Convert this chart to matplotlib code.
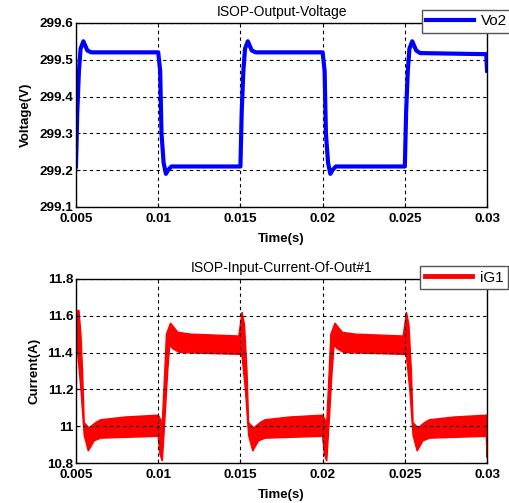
import matplotlib.pyplot as plt
from matplotlib.lines import Line2D

plt.rcParams['font.family'] = ['Liberation Sans', 'DejaVu Sans']

# ---------------- datos: tension de salida Vo2 ----------------
t_v = [0.005, 0.00508, 0.00518, 0.00528, 0.00545, 0.00569, 0.00593, 0.0100,
       0.01012, 0.0102, 0.01033, 0.01047, 0.0106, 0.0108, 0.0150,
       0.01508, 0.01518, 0.01528, 0.01545, 0.01569, 0.01593, 0.0200,
       0.02012, 0.0202, 0.02033, 0.02047, 0.0206, 0.0208, 0.0250,
       0.02508, 0.02518, 0.02528, 0.02545, 0.02569, 0.02593, 0.02995, 0.0300]
v_o2 = [299.21, 299.36, 299.47, 299.53, 299.55, 299.525, 299.52, 299.52,
        299.47, 299.30, 299.22, 299.19, 299.20, 299.21, 299.21,
        299.36, 299.47, 299.53, 299.55, 299.525, 299.52, 299.52,
        299.47, 299.30, 299.22, 299.19, 299.20, 299.21, 299.21,
        299.36, 299.47, 299.53, 299.55, 299.525, 299.518, 299.515, 299.47]

# ---------------- datos: corriente de entrada iG1 (envolvente del rizado) ----------------
t_sup = [0.005, 0.00518, 0.0053, 0.0054, 0.0055, 0.0058, 0.0062, 0.0065, 0.008, 0.0100,
         0.01025, 0.0104, 0.0105, 0.01075, 0.0112, 0.012, 0.0149, 0.0151, 0.01525, 0.0154,
         0.0155, 0.0158, 0.0162, 0.0165, 0.018, 0.0200,
         0.02025, 0.0204, 0.0205, 0.02075, 0.0212, 0.022, 0.0249, 0.0251, 0.02525, 0.0254,
         0.0255, 0.0258, 0.0262, 0.0265, 0.028, 0.0300]
i_sup = [11.62, 11.63, 11.50, 11.30, 11.02, 10.99, 11.02, 11.035, 11.05, 11.06,
         11.02, 11.30, 11.50, 11.56, 11.51, 11.50, 11.49, 11.62, 11.55, 11.30,
         11.02, 10.99, 11.02, 11.035, 11.05, 11.06,
         11.02, 11.30, 11.50, 11.56, 11.51, 11.50, 11.49, 11.62, 11.55, 11.30,
         11.02, 10.99, 11.02, 11.035, 11.05, 11.06]
t_inf = [0.005, 0.0051, 0.0053, 0.0055, 0.00575, 0.0061, 0.0065, 0.0100,
         0.0101, 0.01025, 0.01035, 0.01058, 0.0107, 0.0109, 0.0113, 0.0150,
         0.0151, 0.0153, 0.0155, 0.01575, 0.0161, 0.0165, 0.0200,
         0.0201, 0.02025, 0.02035, 0.02058, 0.0207, 0.0209, 0.0213, 0.0250,
         0.0251, 0.0253, 0.0255, 0.02575, 0.0261, 0.0265, 0.02995, 0.0300]
i_inf = [11.42, 11.40, 11.20, 10.95, 10.865, 10.92, 10.935, 10.945,
         10.85, 10.81, 10.95, 11.30, 11.44, 11.42, 11.40, 11.39,
         11.38, 11.20, 10.95, 10.865, 10.92, 10.935, 10.945,
         10.85, 10.81, 10.95, 11.30, 11.44, 11.42, 11.40, 11.39,
         11.38, 11.20, 10.95, 10.865, 10.92, 10.935, 10.945, 10.83]

x_ticks = [0.005, 0.01, 0.015, 0.02, 0.025, 0.03]
x_labels = ['0.005', '0.01', '0.015', '0.02', '0.025', '0.03']
v_ticks = [299.1, 299.2, 299.3, 299.4, 299.5, 299.6]
v_labels = ['299.1', '299.2', '299.3', '299.4', '299.5', '299.6']
i_ticks = [10.8, 11.0, 11.2, 11.4, 11.6, 11.8]
i_labels = ['10.8', '11', '11.2', '11.4', '11.6', '11.8']

fig = plt.figure(figsize=(5.10, 5.03), dpi=100)
ax1 = fig.add_axes([0.149, 0.5885, 0.806, 0.366])
ax2 = fig.add_axes([0.149, 0.0795, 0.806, 0.366])


def estilo(ax, yt, yl, ylabel, titulo):
    ax.set_xlim(0.005, 0.03)
    ax.set_ylim(yt[0], yt[-1])
    ax.set_xticks(x_ticks)
    ax.set_xticklabels(x_labels)
    ax.set_yticks(yt)
    ax.set_yticklabels(yl)
    ax.tick_params(direction='in', length=3, labelsize=9.7)
    ax.tick_params(axis='x', pad=4)
    ax.tick_params(axis='y', pad=2)
    for lab in ax.get_xticklabels() + ax.get_yticklabels():
        lab.set_fontweight('bold')
    ax.grid(True, color='black', linestyle=(0, (3, 3)), linewidth=0.8)
    ax.set_xlabel('Time(s)', fontsize=9.5, fontweight='bold', labelpad=6)
    ax.set_ylabel(ylabel, fontsize=9.5, fontweight='bold', labelpad=5)
    ax.set_title(titulo, fontsize=10, pad=5)
    for s in ax.spines.values():
        s.set_linewidth(1.0)


# ---------------- grafico superior ----------------
ax1.plot(t_v, v_o2, color='#0000ff', linewidth=3, label='Vo2', solid_joinstyle='round')
estilo(ax1, v_ticks, v_labels, 'Voltage(V)', 'ISOP-Output-Voltage')
ax1.legend(loc='upper right', bbox_to_anchor=(1.004, 0.981), bbox_transform=fig.transFigure,
           fancybox=False, edgecolor='#555555', fontsize=11, handlelength=3.1,
           handletextpad=0.5, borderaxespad=0, framealpha=1, borderpad=0.3)

# ---------------- grafico inferior ----------------
ax2.fill(t_sup + t_inf[::-1], i_sup + i_inf[::-1], color='#ff0000', linewidth=1,
         edgecolor='#ff0000', label='iG1')
estilo(ax2, i_ticks, i_labels, 'Current(A)', 'ISOP-Input-Current-Of-Out#1')
ax2.legend(handles=[Line2D([], [], color='#ff0000', linewidth=3.5)], labels=['iG1'],
           loc='upper right', bbox_to_anchor=(0.996, 0.471), bbox_transform=fig.transFigure,
           fancybox=False, edgecolor='#555555', fontsize=11, handlelength=3.1,
           handletextpad=0.5, borderaxespad=0, framealpha=1, borderpad=0.3)

fig.savefig('out.png', dpi=100)
